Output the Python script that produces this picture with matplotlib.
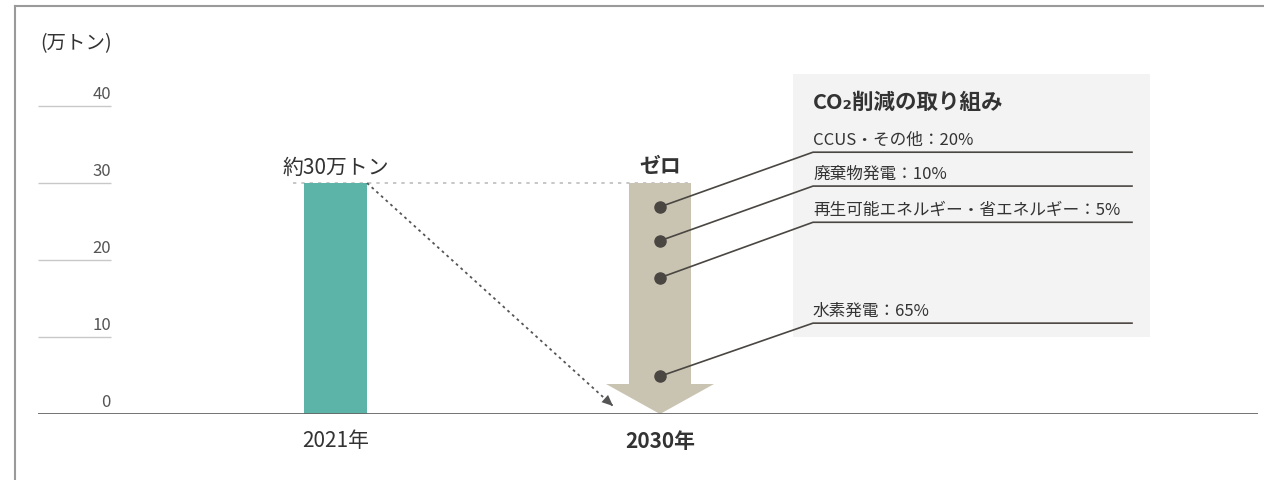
import matplotlib
matplotlib.use("Agg")
import matplotlib.pyplot as plt
from matplotlib.lines import Line2D
from matplotlib.patches import Rectangle

plt.rcParams['font.family'] = ['Noto Sans CJK JP', 'DejaVu Sans']

# data
years = ['2021年', '2030年']
emissions = [30, 0]            # 万トン
bar_label = '約30万トン'
zero_label = 'ゼロ'
y_ticks = [0, 10, 20, 30, 40]

measures = ['CCUS・その他：20%', '廃棄物発電：10%',
            '再生可能エネルギー・省エネルギー：5%', '水素発電：65%']
dot_y = [26.9, 22.5, 17.7, 4.9]      # where the leaders start on the arrow
line_y = [34.0, 29.6, 24.9, 11.8]    # level of each label's underline
box_title = 'CO₂削減の取り組み'

# colours
TEAL = '#5cb4a9'
BEIGE = '#c9c4b1'
DARK = '#4a4642'
TEXT = '#333333'
GRID = '#c8c8c8'

W, H = 1264, 481
fig = plt.figure(figsize=(W / 100, H / 100), dpi=100)

# axes placed in reference pixels: x 38..1258, y (from top) 7..415
left, right, top, bottom = 38, 1258, 7, 415
ax = fig.add_axes([left / W, (H - bottom) / H, (right - left) / W, (bottom - top) / H])

# scale: category 0 at px 335.5, category 1 at px 660; 10 units = 77 px
xs = 324.5
ys = 7.7
def px2x(px):
    return (px - 335.5) / xs
def px2y(py):
    return (bottom - py) / ys

ax.set_xlim(px2x(left), px2x(right))
ax.set_ylim(0, (bottom - top) / ys)
ax.axis('off')

# y gridlines (short) and labels
gx1 = px2x(111)
ax.hlines(y_ticks[1:], px2x(left), gx1, color=GRID, lw=1)
for t in y_ticks:
    ax.annotate(str(t), (gx1, t), xytext=(0, 3), textcoords='offset points',
                ha='right', va='bottom', fontsize=12, color='#555555')
ax.axhline(0, color='#666666', lw=2, zorder=5)
ax.text(px2x(40), px2y(44), '(万トン)', ha='left', va='center', fontsize=14, color=TEXT)

# 2021 bar
bw = 63 / xs
ax.bar(0, emissions[0], width=bw, color=TEAL, zorder=3)
ax.annotate(bar_label, (0, emissions[0]), xytext=(0, 4), textcoords='offset points',
            ha='center', va='bottom', fontsize=15, color=TEXT)

# dotted level line
ax.plot([px2x(293), px2x(693)], [emissions[0], emissions[0]], color='#bdbdbd',
        lw=1.2, ls=(0, (2, 3)), zorder=2)

# 2030 downward arrow
ax.arrow(1, emissions[0], 0, emissions[1] - emissions[0], width=62 / xs,
         head_width=108 / xs, head_length=30 / ys, length_includes_head=True,
         color=BEIGE, lw=0, zorder=3)
ax.annotate(zero_label, (1, emissions[0]), xytext=(0, 5), textcoords='offset points',
            ha='center', va='bottom', fontsize=15, fontweight='bold', color=TEXT)

# dotted diagonal arrow from bar top to 2030
x0, y0 = bw / 2, emissions[0]
x1, y1 = px2x(613), px2y(407)
ax.plot([x0, x1], [y0, y1], color='#555555', lw=1.3, ls=(0, (1.5, 2)), zorder=4)
ax.annotate('', xy=(x1, y1), xytext=(x0 + (x1 - x0) * 0.96, y0 + (y1 - y0) * 0.96),
            arrowprops=dict(arrowstyle='-|>,head_length=0.8,head_width=0.35',
                            color='#555555', lw=0, shrinkA=0, shrinkB=0), zorder=4)

# x labels
for i, lab in enumerate(years):
    ax.annotate(lab, (i, 0), xytext=(0, -19), textcoords='offset points',
                ha='center', va='center', fontsize=15, color=TEXT,
                fontweight='bold' if i == 1 else 'normal')

# breakdown box
bx0, bx1 = px2x(793), px2x(1150)
by0, by1 = px2y(338), px2y(75)
ax.add_patch(Rectangle((bx0, by0), bx1 - bx0, by1 - by0, facecolor='#f3f3f3',
                       edgecolor='none', zorder=1))
tx = px2x(813)
lx = px2x(1132)
ax.text(tx, px2y(102), box_title, ha='left', va='center', fontsize=15.5,
        fontweight='bold', color=TEXT)
for lab, dy, ly in zip(measures, dot_y, line_y):
    ax.plot([1, tx, lx], [dy, ly, ly], color=DARK, lw=1.2, zorder=6)
    ax.plot(1, dy, 'o', color=DARK, ms=8, zorder=7)
    ax.annotate(lab, (tx, ly), xytext=(0, 3), textcoords='offset points',
                ha='left', va='bottom', fontsize=12, color=TEXT)

# outer frame (top and left only)
fig.add_artist(Line2D([15 / W, 1], [1 - 7 / H, 1 - 7 / H], color='#9a9a9a', lw=1.5))
fig.add_artist(Line2D([15 / W, 15 / W], [0, 1 - 7 / H], color='#9a9a9a', lw=1.5))

fig.savefig('out.png', dpi=100, facecolor='white')
